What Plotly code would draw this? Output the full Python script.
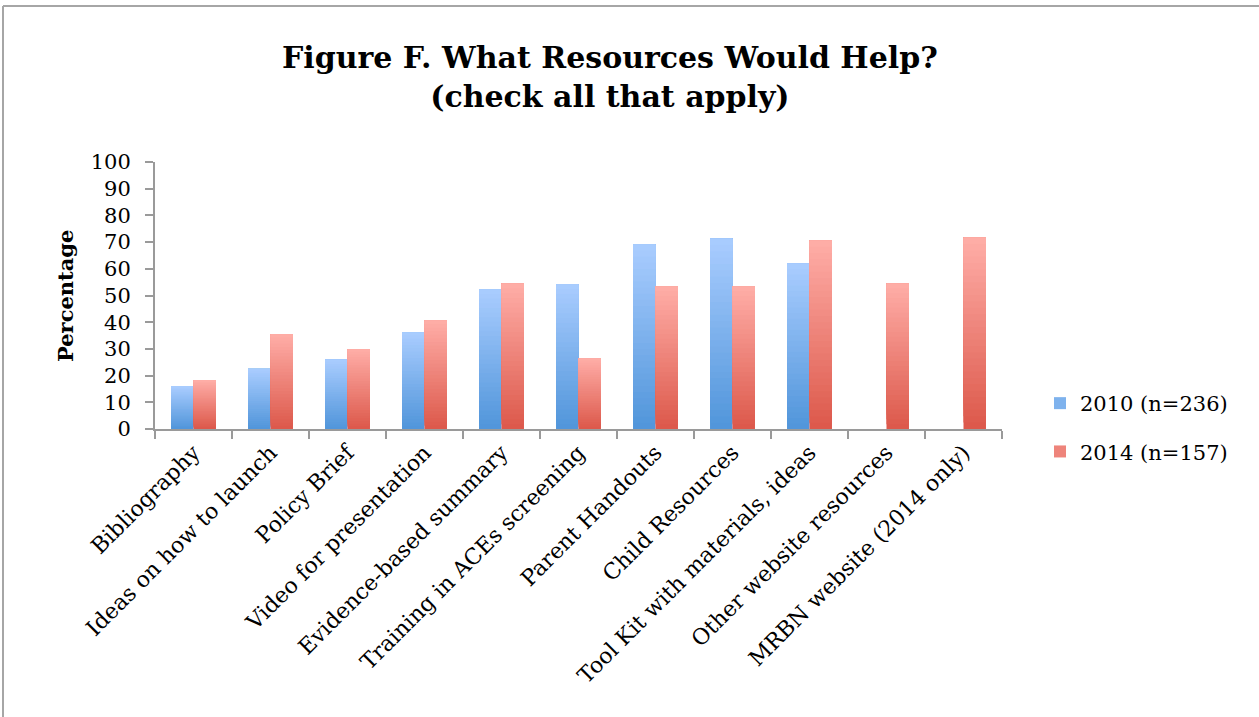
import plotly.graph_objects as go

# Survey categories and percentages
categories = [
    "Bibliography",
    "Ideas on how to launch",
    "Policy Brief",
    "Video for presentation",
    "Evidence-based summary",
    "Training in ACEs screening",
    "Parent Handouts",
    "Child Resources",
    "Tool Kit with materials, ideas",
    "Other website resources",
    "MRBN website (2014 only)",
]
pct_2010 = [16, 22.5, 26, 36.2, 52.3, 54.2, 69.1, 71.3, 62, None, None]
pct_2014 = [18.3, 35.5, 29.9, 40.7, 54.5, 26.5, 53.4, 53.4, 70.6, 54.5, 71.7]

series = [
    ("2010 (n=236)", pct_2010, (80, 149, 218), (170, 205, 255)),
    ("2014 (n=157)", pct_2014, (220, 88, 74), (255, 174, 168)),
]

N_SLICES = 30
FONT = "DejaVu Serif"

fig = go.Figure()


def mix(c0, c1, t):
    return "rgb({},{},{})".format(*[round(a + (b - a) * t) for a, b in zip(c0, c1)])


# Each bar is painted as overlapping layers, each running from a rising base up
# to the bar's value, so the visible bands form a vertical colour gradient
for gi, (name, vals, dark, light) in enumerate(series):
    for k in range(N_SLICES):
        t = (k + 0.5) / N_SLICES
        bases = [None if v is None else v * k / N_SLICES for v in vals]
        heights = [None if v is None else v * (1 - k / N_SLICES) for v in vals]
        fig.add_trace(go.Bar(
            x=categories,
            y=heights,
            base=bases,
            name=name,
            offsetgroup=str(gi),
            legendgroup=str(gi),
            showlegend=(k == N_SLICES // 2),
            marker=dict(color=mix(dark, light, t), line=dict(width=0)),
            hoverinfo="skip",
        ))

L, R = 155, 1002
T, B = 162, 429
W, H = 1259, 717


def px_x(p):
    return (p - L) / (R - L)


def px_y(p):
    return (B - p) / (B - T)


fig.update_layout(
    width=W,
    height=H,
    margin=dict(l=L, r=W - R, t=T, b=H - B, autoexpand=False),
    paper_bgcolor="white",
    plot_bgcolor="white",
    barmode="group",
    bargap=0.416,
    bargroupgap=0,
    font=dict(family=FONT, size=21, color="black"),
    showlegend=True,
    legend=dict(
        x=px_x(1040), y=px_y(383), xanchor="left", yanchor="top",
        font=dict(family=FONT, size=21),
        tracegroupgap=18,
        traceorder="grouped",
        bgcolor="rgba(0,0,0,0)",
    ),
    xaxis=dict(
        type="category",
        tickangle=-45,
        showline=True, linecolor="#9a9a9a", linewidth=2,
        ticks="outside", tickson="boundaries", ticklen=8,
        tickcolor="#9a9a9a", tickwidth=2,
        showgrid=False, zeroline=False,
        tickfont=dict(family=FONT, size=22),
        automargin=False,
    ),
    yaxis=dict(
        range=[0, 100], dtick=10,
        showline=True, linecolor="#9a9a9a", linewidth=2,
        ticks="outside", ticklen=8, tickcolor="#9a9a9a", tickwidth=2,
        showgrid=False, zeroline=False,
        tickfont=dict(family=FONT, size=21),
        ticklabelstandoff=10,
        automargin=False,
    ),
    annotations=[
        dict(
            text="<b>Figure F. What Resources Would Help?<br>(check all that apply)</b>",
            xref="paper", yref="paper", x=px_x(610), y=px_y(38),
            xanchor="center", yanchor="top", showarrow=False,
            font=dict(family=FONT, size=30, color="black"),
        ),
        dict(
            text="<b>Percentage</b>",
            xref="paper", yref="paper", x=px_x(65), y=px_y(296),
            xanchor="center", yanchor="middle", showarrow=False, textangle=-90,
            font=dict(family=FONT, size=21, color="black"),
        ),
    ],
    shapes=[
        dict(type="line", xref="paper", yref="paper",
             x0=px_x(3), x1=px_x(W + 5), y0=px_y(6), y1=px_y(6),
             line=dict(color="#a6a6a6", width=2)),
        dict(type="line", xref="paper", yref="paper",
             x0=px_x(3), x1=px_x(3), y0=px_y(6), y1=px_y(H + 5),
             line=dict(color="#a6a6a6", width=2)),
    ],
)

fig.write_html("out.html")
